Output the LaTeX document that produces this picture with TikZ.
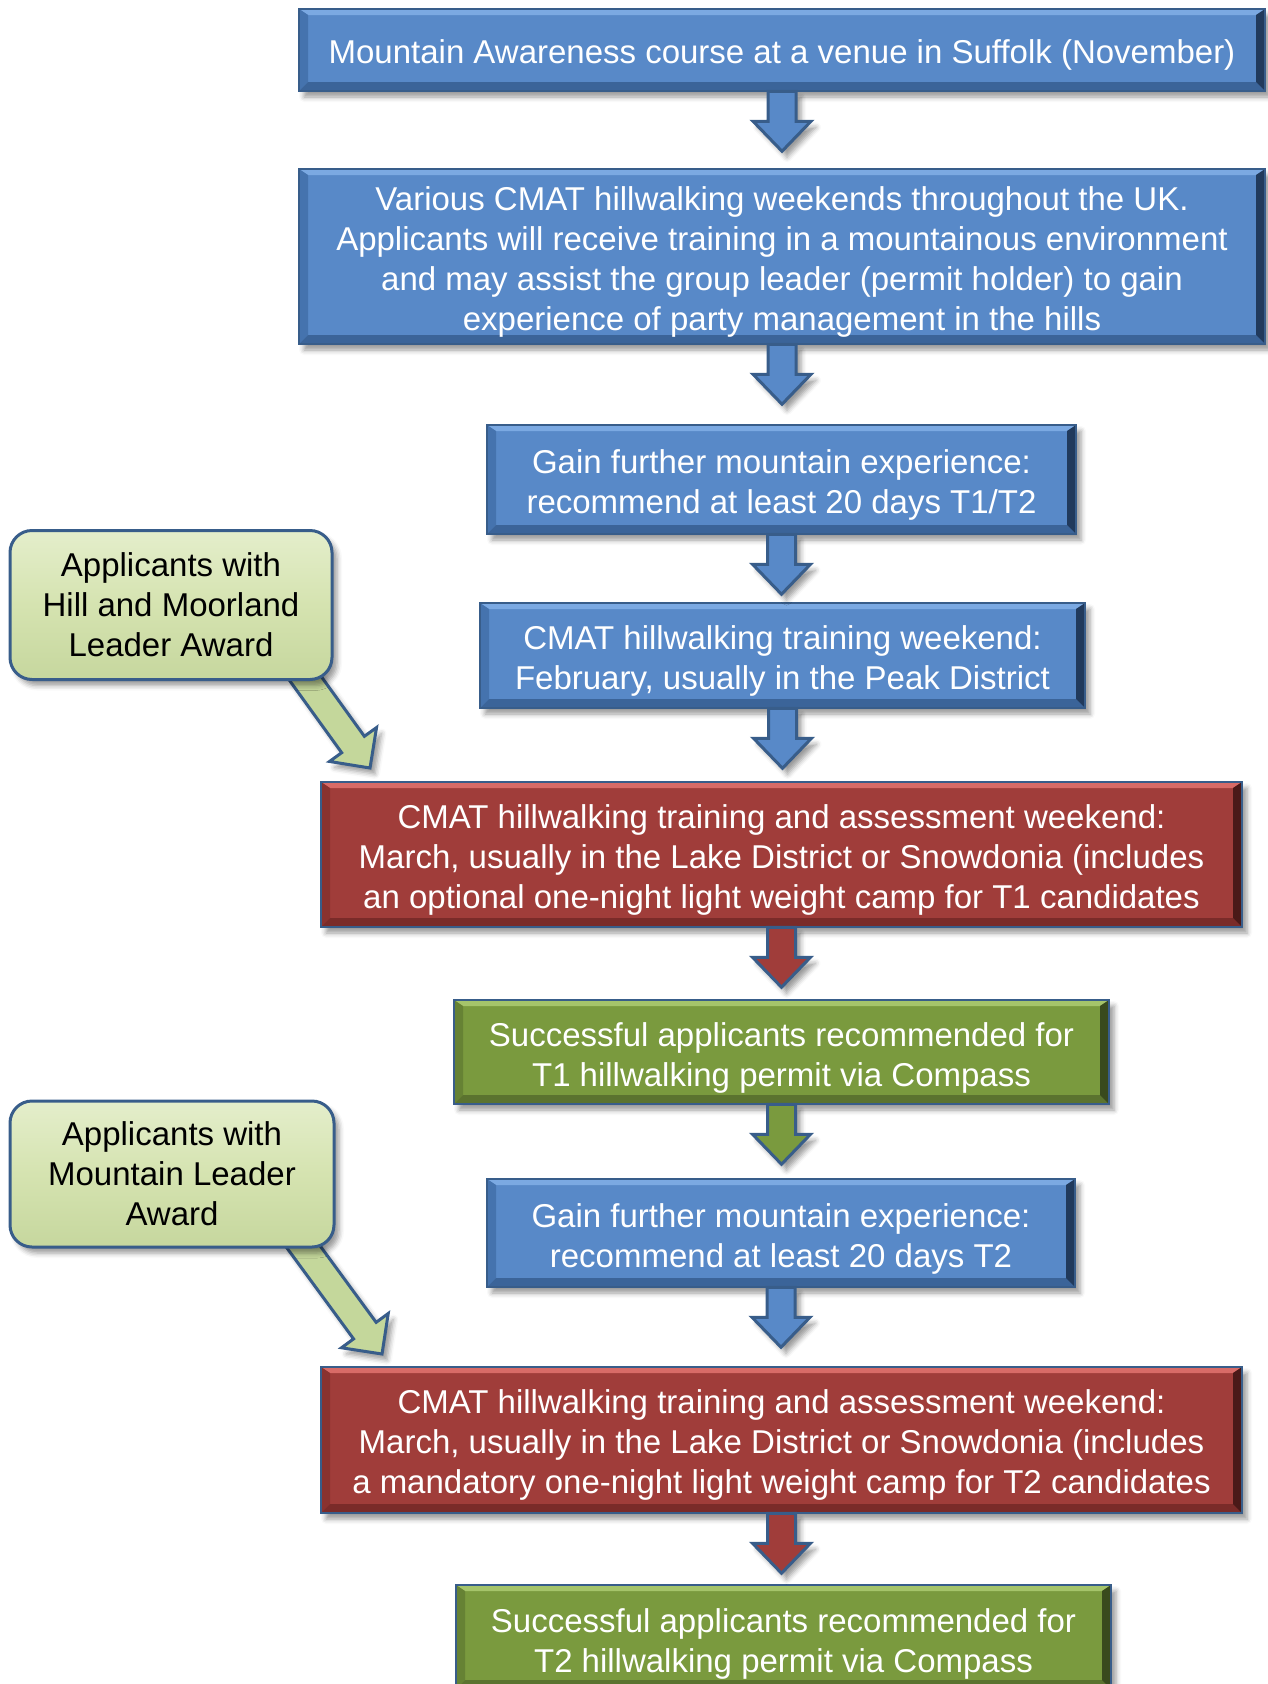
\documentclass[tikz,border=0pt]{standalone}
\usepackage{fontspec}
\setmainfont{Liberation Sans}
\usetikzlibrary{calc,shadows,shadows.blur}

\definecolor{edge}{HTML}{385D8A}
\definecolor{bluebase}{HTML}{5889C8}
\definecolor{bluetop}{HTML}{7BA9E2}
\definecolor{blueleft}{HTML}{4573AE}
\definecolor{bluebot}{HTML}{3B6499}
\definecolor{blueright}{HTML}{213A5C}
\definecolor{redbase}{HTML}{A03D3A}
\definecolor{redtop}{HTML}{D86B67}
\definecolor{redleft}{HTML}{8A322F}
\definecolor{redbot}{HTML}{7A2B29}
\definecolor{redright}{HTML}{4A1918}
\definecolor{greenbase}{HTML}{7A9A3E}
\definecolor{greentop}{HTML}{A5C46A}
\definecolor{greenleft}{HTML}{668234}
\definecolor{greenbot}{HTML}{5B732F}
\definecolor{greenright}{HTML}{394A1D}
\definecolor{lgbase}{HTML}{D5E3B0}
\definecolor{lgtop}{HTML}{E4EECB}
\definecolor{lgbot}{HTML}{C6D79E}
\definecolor{lgarrow}{HTML}{C4D79B}

\newcommand\topgap[1]{\rule{0pt}{#1pt}}
\newcommand\botgap{\rule[-7pt]{0pt}{7pt}}

\tikzset{
  bevelfx/.style={path picture={
    \fill[#1top] (path picture bounding box.north west) -- (path picture bounding box.north east) -- ([shift={(-9pt,-6pt)}]path picture bounding box.north east) -- ([shift={(9pt,-6pt)}]path picture bounding box.north west) -- cycle;
    \fill[#1left] (path picture bounding box.north west) -- (path picture bounding box.south west) -- ([shift={(9pt,9pt)}]path picture bounding box.south west) -- ([shift={(9pt,-6pt)}]path picture bounding box.north west) -- cycle;
    \fill[#1bot] (path picture bounding box.south west) -- (path picture bounding box.south east) -- ([shift={(-9pt,9pt)}]path picture bounding box.south east) -- ([shift={(9pt,9pt)}]path picture bounding box.south west) -- cycle;
    \fill[#1right] (path picture bounding box.north east) -- (path picture bounding box.south east) -- ([shift={(-9pt,9pt)}]path picture bounding box.south east) -- ([shift={(-9pt,-6pt)}]path picture bounding box.north east) -- cycle;
  }},
  softshadow/.style={blur shadow={shadow xshift=5pt, shadow yshift=-6pt, shadow blur radius=5pt, shadow opacity=40}},
  flowbox/.style={draw=edge, line width=2.5pt, fill=#1base, bevelfx=#1, text=white,
    align=center, font=\fontsize{33}{40}\selectfont, inner sep=0pt, softshadow},
  sidebox/.style={draw=edge, line width=3pt, rounded corners=22pt, top color=lgtop,
    bottom color=lgbot, middle color=lgbase, text=black, align=center,
    font=\fontsize{33}{40}\selectfont, inner sep=0pt, softshadow},
  arrowfx/.style={draw=edge, line width=3pt, line join=miter, softshadow},
}

% straight block arrow below a box: source, target, fill colour
\newcommand\downarrowfx[3]{%
  \path[arrowfx, fill=#3] let \p1=(#1.south), \p2=(#2.north) in
    (\x1-14pt,\y1+1pt) -- (\x1-14pt,\y1-29pt) -- (\x1-29pt,\y1-29pt) --
    (\x1,\y1-59pt) -- (\x1+29pt,\y1-29pt) -- (\x1+14pt,\y1-29pt) --
    (\x1+14pt,\y1+1pt) -- cycle;
}
% slanted block arrow from start coordinate to tip coordinate
\newcommand\slantarrowfx[3]{%
  \coordinate (#3) at ($(#2)!29pt!(#1)$);
  \path[arrowfx, fill=lgarrow]
    ($(#1)!14pt!90:(#2)$) -- ($(#3)!14pt!90:(#2)$) -- ($(#3)!29pt!90:(#2)$) --
    (#2) -- ($(#3)!29pt!-90:(#2)$) -- ($(#3)!14pt!-90:(#2)$) --
    ($(#1)!14pt!-90:(#2)$) -- cycle;
}

\begin{document}
\begin{tikzpicture}[x=1pt,y=-1pt]
\useasboundingbox (0,0) rectangle (1267,1684);

% slanted arrows (drawn first, their tails hidden under the side boxes)
\coordinate (d1s) at (300,671);
\coordinate (d1t) at (370,768);
\coordinate (d2s) at (297,1238);
\coordinate (d2t) at (382,1354);
\slantarrowfx{d1s}{d1t}{d1h}
\slantarrowfx{d2s}{d2t}{d2h}

\node[flowbox=blue, minimum width=966pt, minimum height=82pt] (b1) at (782,50)
  {\topgap{34}Mountain Awareness course at a venue in Suffolk (November)\botgap};
\node[flowbox=blue, minimum width=966pt, minimum height=175pt] (b2) at (782,256.5)
  {\topgap{34}Various CMAT hillwalking weekends throughout the UK.\\
   Applicants will receive training in a mountainous environment\\
   and may assist the group leader (permit holder) to gain\\
   experience of party management in the hills\botgap};
\node[flowbox=blue, minimum width=589pt, minimum height=109pt] (b3) at (781.5,479.5)
  {\topgap{35}Gain further mountain experience:\\ recommend at least 20 days T1/T2\botgap};
\node[flowbox=blue, minimum width=605pt, minimum height=105pt] (b4) at (782.5,655.5)
  {\topgap{35}CMAT hillwalking training weekend:\\ February, usually in the Peak District\botgap};
\node[flowbox=red, minimum width=921pt, minimum height=145pt] (b5) at (781.5,854.5)
  {\topgap{34}CMAT hillwalking training and assessment weekend:\\
   March, usually in the Lake District or Snowdonia (includes\\
   an optional one-night light weight camp for T1 candidates\botgap};
\node[flowbox=green, minimum width=655pt, minimum height=104pt] (b6) at (781.5,1052)
  {\topgap{36}Successful applicants recommended for\\ T1 hillwalking permit via Compass\botgap};
\node[flowbox=blue, minimum width=588pt, minimum height=108pt] (b7) at (781,1233)
  {\topgap{35}Gain further mountain experience:\\ recommend at least 20 days T2\botgap};
\node[flowbox=red, minimum width=921pt, minimum height=146pt] (b8) at (781.5,1440)
  {\topgap{34}CMAT hillwalking training and assessment weekend:\\
   March, usually in the Lake District or Snowdonia (includes\\
   a mandatory one-night light weight camp for T2 candidates\botgap};
\node[flowbox=green, minimum width=655pt, minimum height=104pt] (b9) at (783.5,1637)
  {\topgap{38}Successful applicants recommended for\\ T2 hillwalking permit via Compass\botgap};

\node[sidebox, minimum width=322pt, minimum height=149pt] (s1) at (171,605)
  {Applicants with\\ Hill and Moorland\\ Leader Award};
\node[sidebox, minimum width=324pt, minimum height=146pt] (s2) at (172,1174)
  {Applicants with\\ Mountain Leader\\ Award};

\downarrowfx{b1}{b2}{bluebase}
\downarrowfx{b2}{b3}{bluebase}
\downarrowfx{b3}{b4}{bluebase}
\downarrowfx{b4}{b5}{bluebase}
\downarrowfx{b5}{b6}{redbase}
\downarrowfx{b6}{b7}{greenbase}
\downarrowfx{b7}{b8}{bluebase}
\downarrowfx{b8}{b9}{redbase}
\end{tikzpicture}
\end{document}
